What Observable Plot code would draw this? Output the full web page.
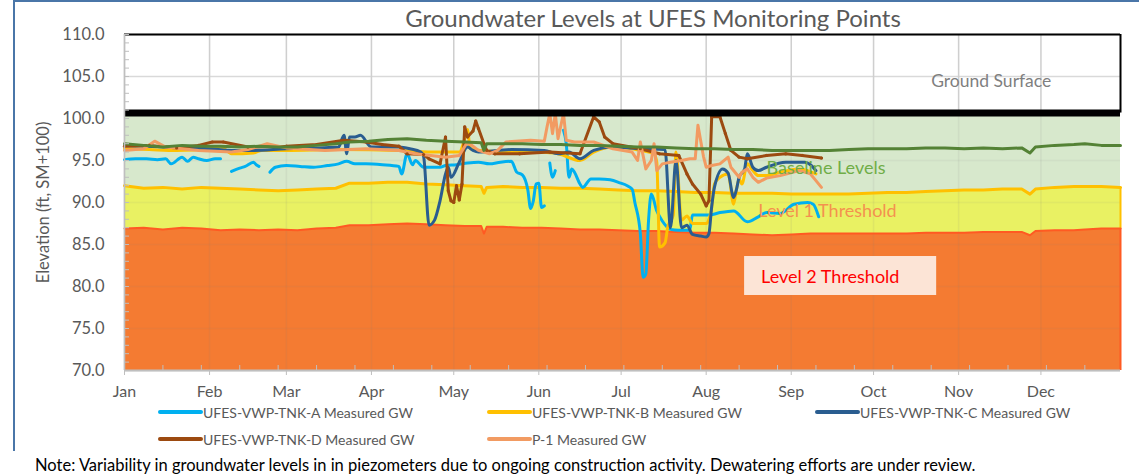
<!DOCTYPE html>
<html><head><meta charset="utf-8">
<script src="https://cdn.jsdelivr.net/npm/d3@7"></script>
<script src="https://cdn.jsdelivr.net/npm/@observablehq/plot@0.6"></script>
<style>
body{margin:0;background:#fff;font-family:Lato,"Open Sans",sans-serif;}
#wrap{position:relative;width:1139px;height:474px;overflow:hidden;}
#frame{position:absolute;left:13px;top:0;width:1140px;height:451px;border-left:2px solid #4A76A8;border-top:2px solid #4A76A8;box-sizing:border-box;pointer-events:none;}
#title{height:30px;box-sizing:border-box;padding-top:5px;padding-left:167px;line-height:26px;text-align:center;font-size:24px;color:#595959;white-space:nowrap;}
#legend{position:relative;height:52px;}
.item{position:absolute;height:16px;display:flex;align-items:center;font-size:14px;color:#595959;white-space:nowrap;}
.sw{width:45px;height:4px;border-radius:2px;}
#note{height:18px;line-height:18px;padding-left:35px;font-size:16.5px;color:#000;white-space:nowrap;}
</style></head>
<body>
<div id="wrap">
<div id="title">Groundwater Levels at UFES Monitoring Points</div>
<div id="chart"></div>
<div id="legend"></div>
<div id="note">Note: Variability in groundwater levels in in piezometers due to ongoing construction activity. Dewatering efforts are under review.</div>
<div id="frame"></div>
</div>
<script>
// ---------- DATA ----------
const months = ["Jan","Feb","Mar","Apr","May","Jun","Jul","Aug","Sep","Oct","Nov","Dec"];
const yTicks = [70,75,80,85,90,95,100,105,110];
const groundSurface = 100.65;

const thresholdDates = ["01-01","01-08","01-15","01-22","01-29","02-05","02-12","02-19","02-26","03-05","03-12","03-19","03-24","03-31","04-07","04-14","04-21","04-28","05-05","05-11","05-12","05-13","05-19","05-26","06-02","06-09","06-16","06-23","06-30","07-07","07-14","07-21","07-28","08-04","08-11","08-18","08-25","09-01","09-08","09-15","09-22","09-29","10-06","10-13","10-20","10-27","11-03","11-10","11-17","11-24","11-27","11-29","12-06","12-13","12-17","12-23","12-30"];
const level2 = [86.9,87.0,86.8,87.0,86.9,86.7,86.8,86.7,86.8,86.7,86.9,87.0,87.3,87.3,87.4,87.5,87.4,87.3,87.2,87.2,86.3,87.1,87.1,87.0,87.0,86.9,86.8,86.8,86.7,86.6,86.6,86.5,86.4,86.4,86.3,86.2,86.1,86.2,86.3,86.3,86.3,86.3,86.3,86.3,86.4,86.4,86.4,86.5,86.5,86.5,86.1,86.6,86.7,86.7,86.8,86.9,86.9];
const level1 = [92.0,91.7,91.8,91.6,91.8,91.7,91.6,91.5,91.4,91.5,91.6,91.7,92.3,92.3,92.4,92.4,92.2,92.1,92.0,91.9,91.1,91.8,91.9,91.8,91.8,91.7,91.7,91.6,91.5,91.4,91.4,91.3,91.2,91.2,91.1,91.1,91.1,91.0,91.0,91.0,91.0,91.1,91.2,91.2,91.3,91.4,91.5,91.5,91.6,91.6,91.0,91.6,91.8,91.9,91.9,91.9,91.8];
const baseline = [97.0,96.8,96.6,96.8,96.7,96.7,96.6,96.7,96.6,96.6,96.8,97.0,97.2,97.3,97.5,97.6,97.4,97.3,97.2,97.1,96.2,97.0,97.0,97.0,96.9,96.9,96.8,96.8,96.7,96.6,96.6,96.5,96.4,96.4,96.3,96.3,96.2,96.2,96.2,96.2,96.3,96.4,96.4,96.4,96.5,96.5,96.4,96.5,96.4,96.5,95.9,96.6,96.8,96.9,97.0,96.8,96.8];

const seriesA = [["01-01",95.1],["01-05",95.2],["01-09",95.2],["01-13",95.1],["01-16",95.2],["01-18",94.6],["01-22",95.4],["01-24",94.9],["01-26",95.4],["01-28",95.2],["01-31",95.0],["02-03",95.2],["02-05",95.2],["02-07",null],
["02-09",93.7],["02-12",94.1],["02-14",94.3],["02-17",94.8],["02-18",94.5],["02-19",94.3],["02-21",null],
["02-23",93.6],["02-25",94.2],["03-01",94.4],["03-06",94.3],["03-11",94.2],["03-16",94.4],["03-20",94.6],["03-23",94.9],["03-26",94.6],["03-30",94.6],["04-05",94.5],["04-11",94.3],["04-12",93.4],["04-14",95.8],["04-16",94.5],["04-17",95.0],["04-20",94.2],["04-26",94.2],["04-28",94.4],["05-02",94.5],["05-06",94.7],["05-10",94.8],["05-14",94.6],["05-18",94.8],["05-22",94.9],["05-24",93.6],["05-26",93.3],["05-28",91.5],["05-29",89.3],["05-30",90.2],["05-31",92.2],["06-01",92.3],["06-02",89.4],["06-03",89.6],["06-04",null],
["06-05",94.7],["06-06",93.0],["06-07",93.8],["06-08",null],
["06-10",98.6],["06-11",97.0],["06-12",93.0],["06-13",94.0],["06-14",93.6],["06-16",92.2],["06-17",91.8],["06-20",92.8],["06-23",92.8],["06-27",92.7],["06-30",92.4],["07-05",91.6],["07-06",90.0],["07-08",86.3],["07-09",81.1],["07-10",81.5],["07-11",87.9],["07-12",91.0],["07-14",89.0],["07-16",87.8],["07-19",86.8],["07-22",86.7],["07-26",86.7],["07-27",88.5],["08-02",88.5],["08-06",88.8],["08-11",89.0],["08-16",87.7],["08-20",88.3],["08-23",88.8],["08-28",88.7],["09-02",89.8],["09-07",90.0],["09-09",89.8],["09-11",88.3]];

const seriesB = [["01-01",96.4],["01-10",96.3],["01-20",96.2],["02-01",96.4],["02-05",96.6],["02-08",96.0],["02-09",95.8],["02-17",95.9],["02-20",96.2],["03-01",96.2],["03-20",96.3],["04-11",96.2],["04-25",96.0],["05-03",96.0],["05-05",97.6],["05-06",98.7],["05-07",96.4],["05-15",96.1],["06-01",96.0],["06-08",95.8],["06-16",95.0],["06-21",96.0],["06-28",96.6],["07-08",96.2],["07-13",95.8],["07-14",94.8],["07-15",84.7],["07-17",85.2],["07-18",87.1],["07-20",88.5],["07-21",96.0],["07-23",87.9],["07-25",88.4],["07-27",87.5],["08-01",87.5],["08-02",88.0],["08-03",89.4],["08-04",92.2],["08-06",93.0],["08-09",93.4],["08-11",89.8],["08-12",91.5],["08-13",92.8],["08-14",92.2],["08-16",94.6],["08-18",93.8],["08-20",93.2],["08-23",93.2],["08-28",93.6],["09-04",94.0],["09-10",93.4]];

const seriesC = [["01-01",96.8],["01-16",96.6],["01-28",96.5],["02-09",96.2],["02-17",96.2],["03-01",96.4],["03-13",96.5],["03-20",96.6],["03-22",98.0],["03-23",95.8],["03-24",97.8],["03-26",97.8],["03-28",98.0],["04-01",96.6],["04-11",96.6],["04-15",96.4],["04-19",96.0],["04-20",95.5],["04-22",87.3],["04-24",87.9],["04-26",90.2],["04-28",93.4],["04-29",94.2],["04-30",93.0],["05-03",94.8],["05-06",96.6],["05-08",96.2],["05-10",96.0],["05-22",96.3],["06-03",96.2],["06-08",95.8],["06-12",96.0],["06-16",95.2],["06-21",96.2],["06-28",96.6],["07-08",96.4],["07-17",96.3],["07-19",87.0],["07-21",95.0],["07-23",87.0],["07-25",87.3],["07-27",86.2],["07-30",86.0],["08-01",85.9],["08-02",86.3],["08-03",89.5],["08-04",91.8],["08-07",94.0],["08-09",93.5],["08-11",90.6],["08-12",91.5],["08-13",93.0],["08-15",94.0],["08-16",95.8],["08-18",94.2],["08-20",93.8],["08-23",94.2],["08-30",94.8],["09-06",94.8],["09-08",94.5],["09-10",93.8]];

const seriesD = [["01-01",96.7],["01-10",96.8],["01-20",96.5],["01-28",96.8],["02-02",97.2],["02-06",97.2],["02-15",96.6],["03-01",96.7],["03-12",96.9],["03-22",97.4],["03-30",97.2],["04-05",96.9],["04-11",96.7],["04-14",95.8],["04-20",95.7],["04-22",95.2],["04-26",94.6],["04-28",97.8],["04-29",91.4],["04-30",90.2],["05-01",90.0],["05-02",92.0],["05-03",90.3],["05-04",92.2],["05-05",99.0],["05-06",97.8],["05-08",98.5],["05-09",99.7],["05-10",98.8],["05-12",97.0],["05-13",96.2],["05-16",95.8],["05-25",95.8],["06-05",96.0],["06-16",95.8],["06-21",100.2],["06-23",99.6],["06-25",97.8],["06-28",97.0],["07-08",96.4],["07-15",95.8],["07-22",95.6],["07-25",93.4],["07-27",92.2],["07-30",91.0],["08-01",89.6],["08-02",90.2],["08-03",100.2],["08-06",100.2],["08-08",98.2],["08-10",96.2],["08-13",95.4],["08-16",95.2],["08-23",95.6],["08-30",95.8],["09-05",95.6],["09-12",95.3]];

const seriesP1 = [["01-01",96.2],["01-08",96.4],["01-12",97.3],["01-16",96.6],["01-28",96.2],["02-09",96.0],["02-15",96.3],["02-22",97.0],["03-01",96.5],["03-15",96.2],["03-30",96.4],["04-11",96.2],["04-17",95.8],["04-25",95.5],["04-28",95.4],["05-03",95.6],["05-06",97.2],["05-10",96.2],["05-14",95.8],["05-17",96.2],["05-20",97.2],["05-29",97.4],["06-03",97.3],["06-04",99.0],["06-05",100.6],["06-06",98.2],["06-07",100.6],["06-08",97.6],["06-10",100.6],["06-11",97.4],["06-14",97.2],["06-21",97.2],["06-28",96.4],["07-05",96.0],["07-07",95.0],["07-08",97.2],["07-10",94.0],["07-12",95.0],["07-13",97.0],["07-14",93.8],["07-16",94.6],["07-19",94.8],["07-23",95.0],["07-26",95.2],["07-28",95.2],["07-29",99.2],["07-31",95.5],["08-01",94.2],["08-03",94.4],["08-06",94.6],["08-09",95.4],["08-10",94.2],["08-13",93.0],["08-14",93.6],["08-16",94.0],["08-18",93.0],["08-20",92.4],["08-23",92.9],["08-28",93.2],["09-04",93.8],["09-08",93.4],["09-10",92.6],["09-12",91.8]];

const seriesNames = ["UFES-VWP-TNK-A Measured GW","UFES-VWP-TNK-B Measured GW","UFES-VWP-TNK-C Measured GW","UFES-VWP-TNK-D Measured GW","P-1 Measured GW"];
const annotationLabels = ["Ground Surface","Baseline Levels","Level 1 Threshold","Level 2 Threshold"];

// ---------- BUILD ----------
const parse = d3.utcParse("%Y-%m-%d");
const dt = md => parse("2023-" + md);
const start = dt("01-01"), end = dt("12-30");
const monthTicks = d3.range(12).map(m => new Date(Date.UTC(2023, m, 1)));
const minorTicks = d3.range(27).map(k => d3.utcDay.offset(start, 14 * k)).filter(d => d <= end);

const th = thresholdDates.map((d, i) => ({date: dt(d), l2: level2[i], l1: level1[i], bl: baseline[i]}));
const toRows = arr => arr.map(([d, v]) => ({date: dt(d), v}));
const colors = ["#00B0F0", "#FFC000", "#2A5D90", "#9C4A10", "#F29B62"];
const allSeries = [seriesA, seriesB, seriesC, seriesD, seriesP1].map(toRows);
const curves = ["monotone-x", "monotone-x", "monotone-x", "linear", "linear"];

const ann = [
  {date: dt("10-22"), value: 104.4, label: annotationLabels[0], color: "#7F7F7F", size: 17.5},
  {date: dt("08-23"), value: 94.05, label: annotationLabels[1], color: "#70AD47", size: 18},
  {date: dt("08-20"), value: 88.93, label: annotationLabels[2], color: "#F4914F", size: 18},
  {date: dt("08-21"), value: 81.07, label: annotationLabels[3], color: "#FF0000", size: 18}
];
const box = [{x1: dt("08-15"), x2: dt("10-24"), y1: 78.93, y2: 83.57}];

const lineMarks = allSeries.map((rows, i) =>
  Plot.line(rows, {x: "date", y: "v", stroke: colors[i], strokeWidth: 3, curve: curves[i]}));

const chart = Plot.plot({
  width: 1139, height: 374,
  marginTop: 4, marginBottom: 34, marginLeft: 124, marginRight: 19,
  style: {fontFamily: "Lato, 'Open Sans', sans-serif", color: "#595959", overflow: "visible", background: "transparent"},
  x: {type: "utc", domain: [start, end]},
  y: {domain: [70, 110]},
  marks: [
    Plot.gridX(monthTicks, {stroke: "#D9D9D9", strokeOpacity: 1, strokeWidth: 1.5}),
    Plot.gridY(yTicks, {stroke: "#D9D9D9", strokeOpacity: 1, strokeWidth: 1.5}),
    Plot.areaY(th, {x: "date", y1: 70, y2: "l2", fill: "#F47B32"}),
    Plot.areaY(th, {x: "date", y1: "l2", y2: "l1", fill: "#E9F163"}),
    Plot.areaY(th, {x: "date", y1: "l1", y2: groundSurface, fill: "#D7E8CC"}),
    Plot.gridX(monthTicks, {stroke: "#808080", strokeOpacity: 0.1, strokeWidth: 1.5}),
    Plot.gridY(yTicks.filter(v => v < 100), {stroke: "#808080", strokeOpacity: 0.08, strokeWidth: 1.5}),
    Plot.ruleX([end], {y1: 70, y2: level2[level2.length - 1], stroke: "#FF5A22", strokeWidth: 2}),
    Plot.ruleX([end], {y1: level2[level2.length - 1], y2: level1[level1.length - 1], stroke: "#FFC000", strokeWidth: 2}),
    Plot.line(th, {x: "date", y: "l2", stroke: "#FF5A22", strokeWidth: 2}),
    Plot.line(th, {x: "date", y: "l1", stroke: "#FFC000", strokeWidth: 3}),
    ...lineMarks,
    Plot.dot(allSeries[3], {x: "date", y: "v", r: 1.6, fill: colors[3]}),
    Plot.line(th, {x: "date", y: "bl", stroke: "#548235", strokeWidth: 3}),
    Plot.ruleY([groundSurface], {stroke: "#000", strokeWidth: 7}),
    Plot.ruleY([110], {stroke: "#000", strokeWidth: 2}),
    Plot.ruleX([end], {y1: groundSurface, y2: 110, stroke: "#000", strokeWidth: 2}),
    Plot.ruleY([70], {stroke: "#BFBFBF", strokeWidth: 2}),
    Plot.ruleX([start], {stroke: "#BFBFBF", strokeWidth: 1.5}),
    Plot.axisY(d3.range(70, 111, 1), {tickSize: -5, tickFormat: () => "", stroke: "#BFBFBF", label: null}),
    Plot.axisY(yTicks, {tickSize: 0, tickPadding: 20, tickFormat: d => d.toFixed(1), fontSize: 16.5,
      label: "Elevation (ft, SM+100)", labelAnchor: "center", labelOffset: 87, labelArrow: false}),
    Plot.axisX(minorTicks, {tickSize: -5, tickFormat: () => "", stroke: "#BFBFBF", label: null}),
    Plot.axisX(monthTicks, {tickSize: 5, tickFormat: () => "", stroke: "#BFBFBF", label: null}),
    Plot.axisX(monthTicks, {tickSize: 0, tickPadding: 15, tickFormat: d => months[d.getUTCMonth()], fontSize: 16, label: null}),
    Plot.rect(box, {x1: "x1", x2: "x2", y1: "y1", y2: "y2", fill: "#FCE4D6"}),
    ...ann.map(a => Plot.text([a], {x: "date", y: "value", text: "label", fill: a.color, textAnchor: "start", fontSize: a.size}))
  ]
});
document.getElementById("chart").appendChild(chart);

// legend
const legend = document.getElementById("legend");
const legPos = [[158, 0], [487, 0], [815, 0], [158, 27], [487, 27]];
seriesNames.forEach((name, i) => {
  const it = document.createElement("div");
  it.className = "item";
  it.style.left = legPos[i][0] + "px";
  it.style.top = legPos[i][1] + "px";
  const sw = document.createElement("span");
  sw.className = "sw"; sw.style.background = colors[i];
  const tx = document.createElement("span");
  tx.textContent = name;
  it.appendChild(sw); it.appendChild(tx);
  legend.appendChild(it);
});
</script>
</body></html>
